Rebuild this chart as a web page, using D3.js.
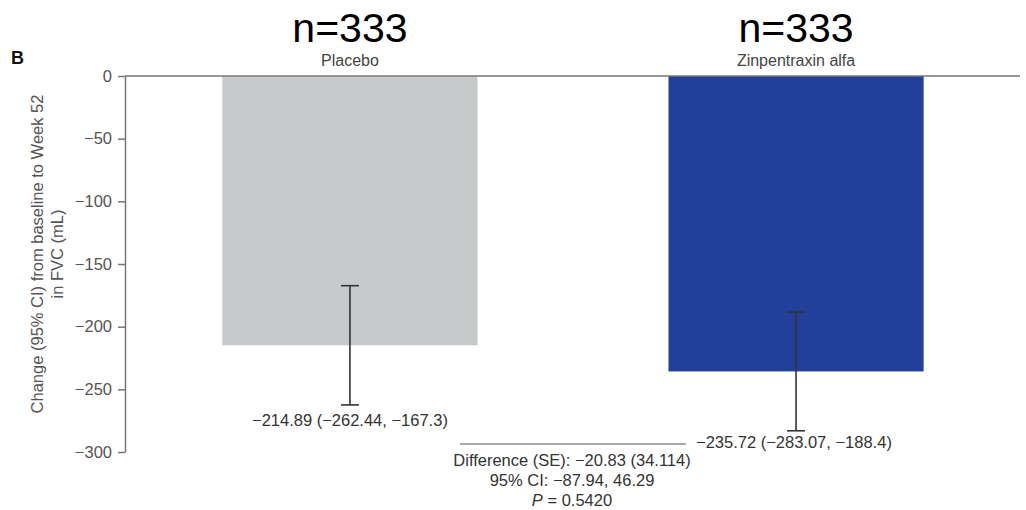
<!DOCTYPE html>
<html>
<head>
<meta charset="utf-8">
<script src="https://cdn.jsdelivr.net/npm/d3@7"></script>
<style>
  html, body { margin: 0; padding: 0; background: #fff; }
  svg { display: block; font-family: "Liberation Sans", Arial, sans-serif; }
</style>
</head>
<body>
<svg id="chart" width="1026" height="510"></svg>
<script>
// Treatment groups and FVC change at week 52 (mL) with 95% CI
const groups = ["Placebo", "Zinpentraxin alfa"];
const counts = ["n=333", "n=333"];
const means = [-214.89, -235.72];
const ciLow = [-262.44, -283.07];
const ciHigh = [-167.3, -188.4];
const valueLabels = ["\u2212214.89 (\u2212262.44, \u2212167.3)", "\u2212235.72 (\u2212283.07, \u2212188.4)"];
const yTicks = [0, -50, -100, -150, -200, -250, -300];
const diffLines = ["Difference (SE): \u221220.83 (34.114)", "95% CI: \u221287.94, 46.29"];
const pValue = "0.5420";
const barColors = ["#c8c9cb", "#22409a"];

const svg = d3.select("#chart");
const axisX = 125, plotTop = 76, plotBottom = 452;

const y = d3.scaleLinear().domain([0, -300]).range([plotTop, plotBottom]);
const x = d3.scaleBand().domain(groups).range([126, 1020]).paddingInner(0.428).paddingOuter(0.216);

// Bars hang down from the zero line
svg.selectAll("rect.bar").data(groups).join("rect")
  .attr("class", "bar")
  .attr("x", d => x(d))
  .attr("width", x.bandwidth())
  .attr("y", y(0))
  .attr("height", (d, i) => y(means[i]) - y(0))
  .attr("fill", (d, i) => barColors[i]);

// Zero reference line across the plot
svg.append("line")
  .attr("x1", axisX).attr("x2", 1020)
  .attr("y1", y(0)).attr("y2", y(0))
  .attr("stroke", "#777").attr("stroke-width", 1.3);

// Y axis
const yAxis = d3.axisLeft(y).tickValues(yTicks)
  .tickFormat(d => d === 0 ? "0" : "\u2212" + Math.abs(d))
  .tickSize(7).tickSizeOuter(0).tickPadding(6);
const gy = svg.append("g").attr("transform", `translate(${axisX},0)`).call(yAxis);
gy.select(".domain").attr("stroke", "#777").attr("stroke-width", 1.5);
gy.selectAll(".tick line").attr("stroke", "#777").attr("stroke-width", 1.5);
gy.selectAll(".tick text").attr("fill", "#555").style("font-size", "16.5px");

// Y axis title
const yTitle = svg.append("text")
  .attr("transform", `translate(43,254) rotate(-90)`)
  .attr("text-anchor", "middle")
  .attr("fill", "#555")
  .style("font-size", "16.5px");
yTitle.append("tspan").attr("x", 0).attr("dy", 0).text("Change (95% CI) from baseline to Week 52");
yTitle.append("tspan").attr("x", 0).attr("dy", 20).text("in FVC (mL)");

// Error bars
const cap = 9;
const cx = d => x(d) + x.bandwidth() / 2;
const eb = svg.selectAll("g.err").data(groups).join("g").attr("class", "err")
  .attr("stroke", "#333").attr("stroke-width", 1.6);
eb.append("line")
  .attr("x1", cx).attr("x2", cx)
  .attr("y1", (d, i) => y(ciHigh[i])).attr("y2", (d, i) => y(ciLow[i]));
eb.append("line")
  .attr("x1", d => cx(d) - cap).attr("x2", d => cx(d) + cap)
  .attr("y1", (d, i) => y(ciHigh[i])).attr("y2", (d, i) => y(ciHigh[i]));
eb.append("line")
  .attr("x1", d => cx(d) - cap).attr("x2", d => cx(d) + cap)
  .attr("y1", (d, i) => y(ciLow[i])).attr("y2", (d, i) => y(ciLow[i]));

// Group headers: sample size and treatment name
svg.selectAll("text.count").data(groups).join("text")
  .attr("class", "count")
  .attr("x", cx)
  .attr("y", 42)
  .attr("text-anchor", "middle")
  .attr("fill", "#000")
  .style("font-size", "41px")
  .text((d, i) => counts[i]);
svg.selectAll("text.group").data(groups).join("text")
  .attr("class", "group")
  .attr("x", cx)
  .attr("y", 66)
  .attr("text-anchor", "middle")
  .attr("fill", "#444")
  .style("font-size", "16px")
  .text(d => d);

// Value labels under each error bar
svg.append("text")
  .attr("x", cx(groups[0]))
  .attr("y", y(ciLow[0]) + 21)
  .attr("text-anchor", "middle")
  .attr("fill", "#333").style("font-size", "16.5px")
  .text(valueLabels[0]);
svg.append("text")
  .attr("x", 696)
  .attr("y", y(ciLow[1]) + 17)
  .attr("text-anchor", "start")
  .attr("fill", "#333").style("font-size", "16.5px")
  .text(valueLabels[1]);

// Difference between groups
const diffX = 572;
svg.append("line")
  .attr("x1", 460).attr("x2", 686)
  .attr("y1", 444).attr("y2", 444)
  .attr("stroke", "#555").attr("stroke-width", 1);
diffLines.forEach((t, i) => {
  svg.append("text")
    .attr("x", diffX).attr("y", 466 + i * 20)
    .attr("text-anchor", "middle")
    .attr("fill", "#333").style("font-size", "16.5px")
    .text(t);
});
const pText = svg.append("text")
  .attr("x", diffX).attr("y", 506)
  .attr("text-anchor", "middle")
  .attr("fill", "#333").style("font-size", "16.5px");
pText.append("tspan").style("font-style", "italic").text("P");
pText.append("tspan").text(" = " + pValue);

// Panel letter
svg.append("text")
  .attr("x", 11).attr("y", 64)
  .attr("fill", "#111")
  .style("font-size", "18px").style("font-weight", "900")
  .text("B");
</script>
</body>
</html>
